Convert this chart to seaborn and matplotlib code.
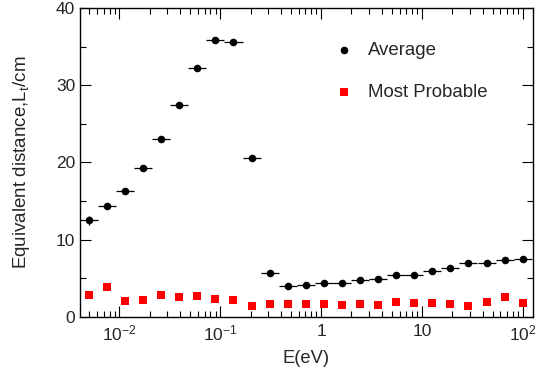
import numpy as np
import pandas as pd
import seaborn as sns
import matplotlib.pyplot as plt
from matplotlib.ticker import LogLocator, FuncFormatter, MultipleLocator

# Centros de los bins de energia (eV)
energia = [0.005, 0.00755, 0.0114, 0.0172, 0.0260, 0.0393, 0.0594, 0.0897,
           0.1355, 0.2047, 0.3092, 0.4671, 0.7056, 1.066, 1.610, 2.432,
           3.674, 5.549, 8.382, 12.66, 19.13, 28.89, 43.64, 65.92, 99.6]

# Distancia equivalente media (cm)
promedio = [12.5, 14.3, 16.3, 19.25, 23.0, 27.4, 32.2, 35.8, 35.6, 20.5,
            5.6, 4.0, 4.1, 4.4, 4.35, 4.75, 4.9, 5.35, 5.4, 5.95, 6.25,
            6.9, 6.95, 7.3, 7.5]

# Valor mas probable (cm)
mas_probable = [2.8, 3.85, 2.0, 2.1, 2.85, 2.6, 2.7, 2.3, 2.1, 1.4, 1.7,
                1.6, 1.6, 1.7, 1.55, 1.6, 1.55, 1.9, 1.8, 1.75, 1.7, 1.45,
                1.9, 2.55, 1.8]

# Error vertical de la media
error_y = [0.6, 0.3, 0.3, 0.3, 0.3, 0.3, 0.3, 0.3, 0.3, 0.3, 0.2, 0.15,
           0.15, 0.15, 0.15, 0.15, 0.15, 0.15, 0.15, 0.15, 0.15, 0.15,
           0.15, 0.15, 0.15]

datos = pd.DataFrame({'E': energia, 'media': promedio, 'mp': mas_probable})

# Bordes de bin para las barras horizontales
paso = np.sqrt(datos['E'].iloc[1] / datos['E'].iloc[0])
err_izq = datos['E'] - datos['E'] / paso
err_der = datos['E'] * paso - datos['E']

sns.set_style('ticks')
plt.rcParams['font.family'] = ['Liberation Sans', 'DejaVu Sans']
plt.rcParams['mathtext.fontset'] = 'custom'
plt.rcParams['mathtext.rm'] = 'Liberation Sans'

fig = plt.figure(figsize=(5.42, 3.74), dpi=100)
ax = fig.add_axes([0.1476, 0.1532, 0.8358, 0.8254])

ax.errorbar(datos['E'], datos['media'], xerr=[err_izq, err_der], yerr=error_y,
            fmt='none', ecolor='black', elinewidth=0.9, capsize=0, zorder=2)
sns.scatterplot(data=datos, x='E', y='media', ax=ax, color='black', marker='o',
                s=30, edgecolor='black', linewidth=0, label='Average', zorder=3)
sns.scatterplot(data=datos, x='E', y='mp', ax=ax, color='#ff0000', marker='s',
                s=26, edgecolor='#ff0000', linewidth=0, label='Most Probable', zorder=3)

ax.set_xscale('log')
ax.set_xlim(4.08e-3, 126)
ax.set_ylim(0, 40)

def formato_x(v, pos):
    exp = int(round(np.log10(v)))
    if exp == 0:
        return '1'
    if exp == 1:
        return '10'
    return r'$\mathregular{10^{%d}}$' % exp

ax.xaxis.set_major_locator(LogLocator(base=10))
ax.xaxis.set_minor_locator(LogLocator(base=10, subs=np.arange(2, 10)))
ax.xaxis.set_major_formatter(FuncFormatter(formato_x))
ax.yaxis.set_major_locator(MultipleLocator(10))
ax.yaxis.set_minor_locator(MultipleLocator(5))

ax.tick_params(which='both', direction='in', top=True, right=True,
               labelsize=12.5, color='black', width=0.8)
ax.tick_params(which='major', length=8)
ax.tick_params(which='minor', length=4)
ax.tick_params(axis='x', pad=5)
for lado in ax.spines.values():
    lado.set_linewidth(1.0)
    lado.set_color('black')

ax.set_xlabel('E(eV)', fontsize=13.2, labelpad=5)
ax.set_ylabel(r'Equivalent distance,L$\mathregular{_t}$/cm', fontsize=13.5, labelpad=17)

ax.legend(loc='upper left', bbox_to_anchor=(0.562, 0.889), frameon=False,
          fontsize=13.4, handlelength=1.0, handletextpad=0.8, labelspacing=1.32,
          borderpad=0, borderaxespad=0, markerscale=1.0)

plt.savefig('out.png', dpi=100)
